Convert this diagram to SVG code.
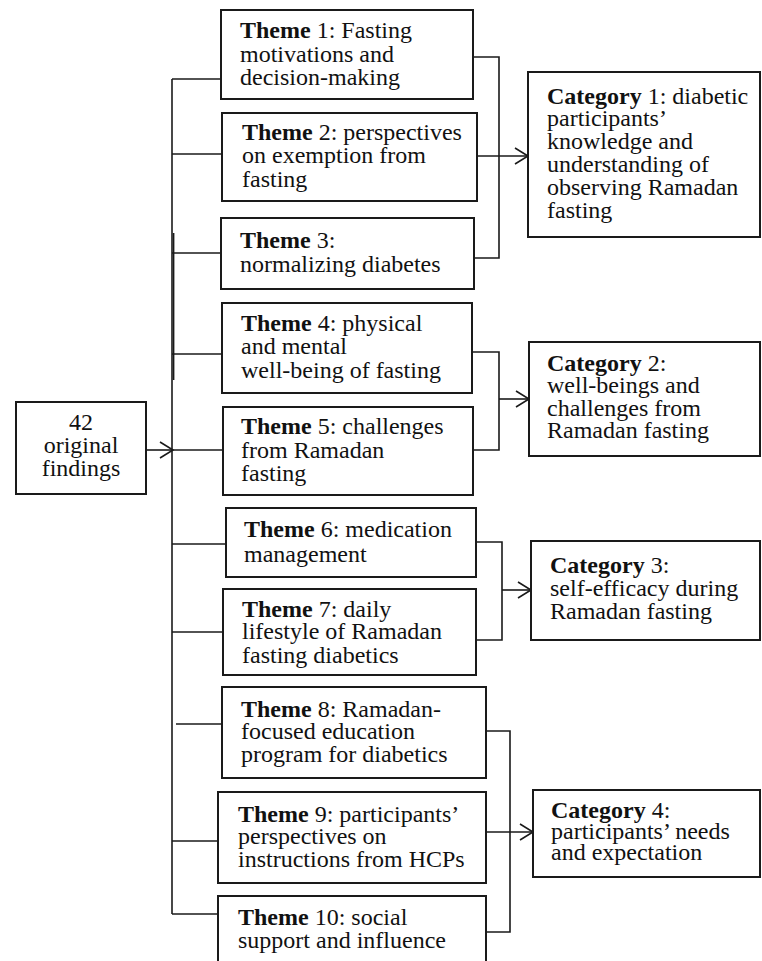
<svg xmlns="http://www.w3.org/2000/svg" width="762" height="961" viewBox="0 0 762 961">
<style>
  .box { fill: #ffffff; stroke: #1a1a1a; stroke-width: 2; }
  .ln { fill: none; stroke: #1a1a1a; stroke-width: 1.6; }
  text { font-family: "Liberation Serif", "Times New Roman", serif; font-size: 24px; fill: #111111; }
  .b { font-weight: bold; }
</style>
<defs>
  <marker id="arr" markerUnits="userSpaceOnUse" markerWidth="16" markerHeight="20" refX="14" refY="9" orient="auto">
    <path d="M1,1 L14,9 L1,17" fill="none" stroke="#1a1a1a" stroke-width="1.6"/>
  </marker>
</defs>
<rect width="762" height="961" fill="#ffffff"/>

<g id="connectors">
  <!-- main trunk -->
  <line class="ln" x1="172" y1="79" x2="172" y2="914"/>
  <line class="ln" x1="173.6" y1="233" x2="173.6" y2="380"/>
  <line class="ln" x1="146" y1="450" x2="173" y2="450" marker-end="url(#arr)"/>
  <!-- branches to themes -->
  <line class="ln" x1="172" y1="79" x2="221" y2="79"/>
  <line class="ln" x1="172" y1="154" x2="222" y2="154"/>
  <line class="ln" x1="172" y1="253" x2="221" y2="253"/>
  <line class="ln" x1="172" y1="354" x2="222" y2="354"/>
  <line class="ln" x1="172" y1="450" x2="223" y2="450"/>
  <line class="ln" x1="172" y1="544" x2="226" y2="544"/>
  <line class="ln" x1="172" y1="632" x2="223" y2="632"/>
  <line class="ln" x1="176" y1="724" x2="222" y2="724"/>
  <line class="ln" x1="172" y1="841" x2="218" y2="841"/>
  <line class="ln" x1="172" y1="914" x2="218" y2="914"/>
  <!-- group 1 -->
  <polyline class="ln" points="473,57 499,57 499,258 474,258"/>
  <line class="ln" x1="477" y1="156" x2="528" y2="156" marker-end="url(#arr)"/>
  <!-- group 2 -->
  <polyline class="ln" points="472,352 499,352 499,450 473,450"/>
  <line class="ln" x1="499" y1="399" x2="529" y2="399" marker-end="url(#arr)"/>
  <!-- group 3 -->
  <polyline class="ln" points="476,542 502,542 502,640 476,640"/>
  <line class="ln" x1="502" y1="590" x2="531" y2="590" marker-end="url(#arr)"/>
  <!-- group 4 -->
  <polyline class="ln" points="486,731 510,731 510,932 486,932"/>
  <line class="ln" x1="486" y1="832" x2="533" y2="832" marker-end="url(#arr)"/>
</g>

<g id="findings">
  <rect class="box" x="16" y="402" width="130" height="92"/>
  <text x="81" y="430" text-anchor="middle">42</text>
  <text x="81" y="453" text-anchor="middle">original</text>
  <text x="81" y="476" text-anchor="middle">findings</text>
</g>

<g id="theme1">
  <rect class="box" x="221" y="10" width="252" height="89"/>
  <text x="240" y="38"><tspan class="b">Theme</tspan> 1: Fasting</text>
  <text x="240" y="61.5">motivations and</text>
  <text x="240" y="85">decision-making</text>
</g>
<g id="theme2">
  <rect class="box" x="222" y="113" width="255" height="88"/>
  <text x="242" y="140"><tspan class="b">Theme</tspan> 2: perspectives</text>
  <text x="242" y="163">on exemption from</text>
  <text x="242" y="187">fasting</text>
</g>
<g id="theme3">
  <rect class="box" x="221" y="218" width="253" height="71"/>
  <text x="240" y="248"><tspan class="b">Theme</tspan> 3:</text>
  <text x="240" y="272">normalizing diabetes</text>
</g>
<g id="theme4">
  <rect class="box" x="222" y="303" width="250" height="90"/>
  <text x="241" y="331"><tspan class="b">Theme</tspan> 4: physical</text>
  <text x="241" y="354">and mental</text>
  <text x="241" y="378">well-being of fasting</text>
</g>
<g id="theme5">
  <rect class="box" x="223" y="407" width="250" height="88"/>
  <text x="241" y="434"><tspan class="b">Theme</tspan> 5: challenges</text>
  <text x="241" y="458">from Ramadan</text>
  <text x="241" y="481">fasting</text>
</g>
<g id="theme6">
  <rect class="box" x="226" y="508" width="250" height="69"/>
  <text x="244" y="537"><tspan class="b">Theme</tspan> 6: medication</text>
  <text x="244" y="562">management</text>
</g>
<g id="theme7">
  <rect class="box" x="223" y="589" width="253" height="86"/>
  <text x="242" y="617"><tspan class="b">Theme</tspan> 7: daily</text>
  <text x="242" y="639">lifestyle of Ramadan</text>
  <text x="242" y="663">fasting diabetics</text>
</g>
<g id="theme8">
  <rect class="box" x="222" y="687" width="264" height="91"/>
  <text x="241" y="717"><tspan class="b">Theme</tspan> 8: Ramadan-</text>
  <text x="241" y="739">focused education</text>
  <text x="241" y="762">program for diabetics</text>
</g>
<g id="theme9">
  <rect class="box" x="218" y="792" width="268" height="91"/>
  <text x="238" y="822"><tspan class="b">Theme</tspan> 9: participants’</text>
  <text x="238" y="844">perspectives on</text>
  <text x="238" y="867">instructions from HCPs</text>
</g>
<g id="theme10">
  <rect class="box" x="218" y="896" width="268" height="80"/>
  <text x="238" y="925"><tspan class="b">Theme</tspan> 10: social</text>
  <text x="238" y="948">support and influence</text>
</g>

<g id="category1">
  <rect class="box" x="528" y="72" width="232" height="165"/>
  <text x="547" y="104"><tspan class="b">Category</tspan> 1: diabetic</text>
  <text x="547" y="126">participants’</text>
  <text x="547" y="149">knowledge and</text>
  <text x="547" y="172">understanding of</text>
  <text x="547" y="195">observing Ramadan</text>
  <text x="547" y="218">fasting</text>
</g>
<g id="category2">
  <rect class="box" x="529" y="342" width="231" height="114"/>
  <text x="547" y="371"><tspan class="b">Category</tspan> 2:</text>
  <text x="547" y="393">well-beings and</text>
  <text x="547" y="416">challenges from</text>
  <text x="547" y="438">Ramadan fasting</text>
</g>
<g id="category3">
  <rect class="box" x="531" y="541" width="229" height="99"/>
  <text x="550" y="573"><tspan class="b">Category</tspan> 3:</text>
  <text x="550" y="596">self-efficacy during</text>
  <text x="550" y="619">Ramadan fasting</text>
</g>
<g id="category4">
  <rect class="box" x="533" y="790" width="227" height="87"/>
  <text x="551" y="818"><tspan class="b">Category</tspan> 4:</text>
  <text x="551" y="839">participants’ needs</text>
  <text x="551" y="860">and expectation</text>
</g>
</svg>
